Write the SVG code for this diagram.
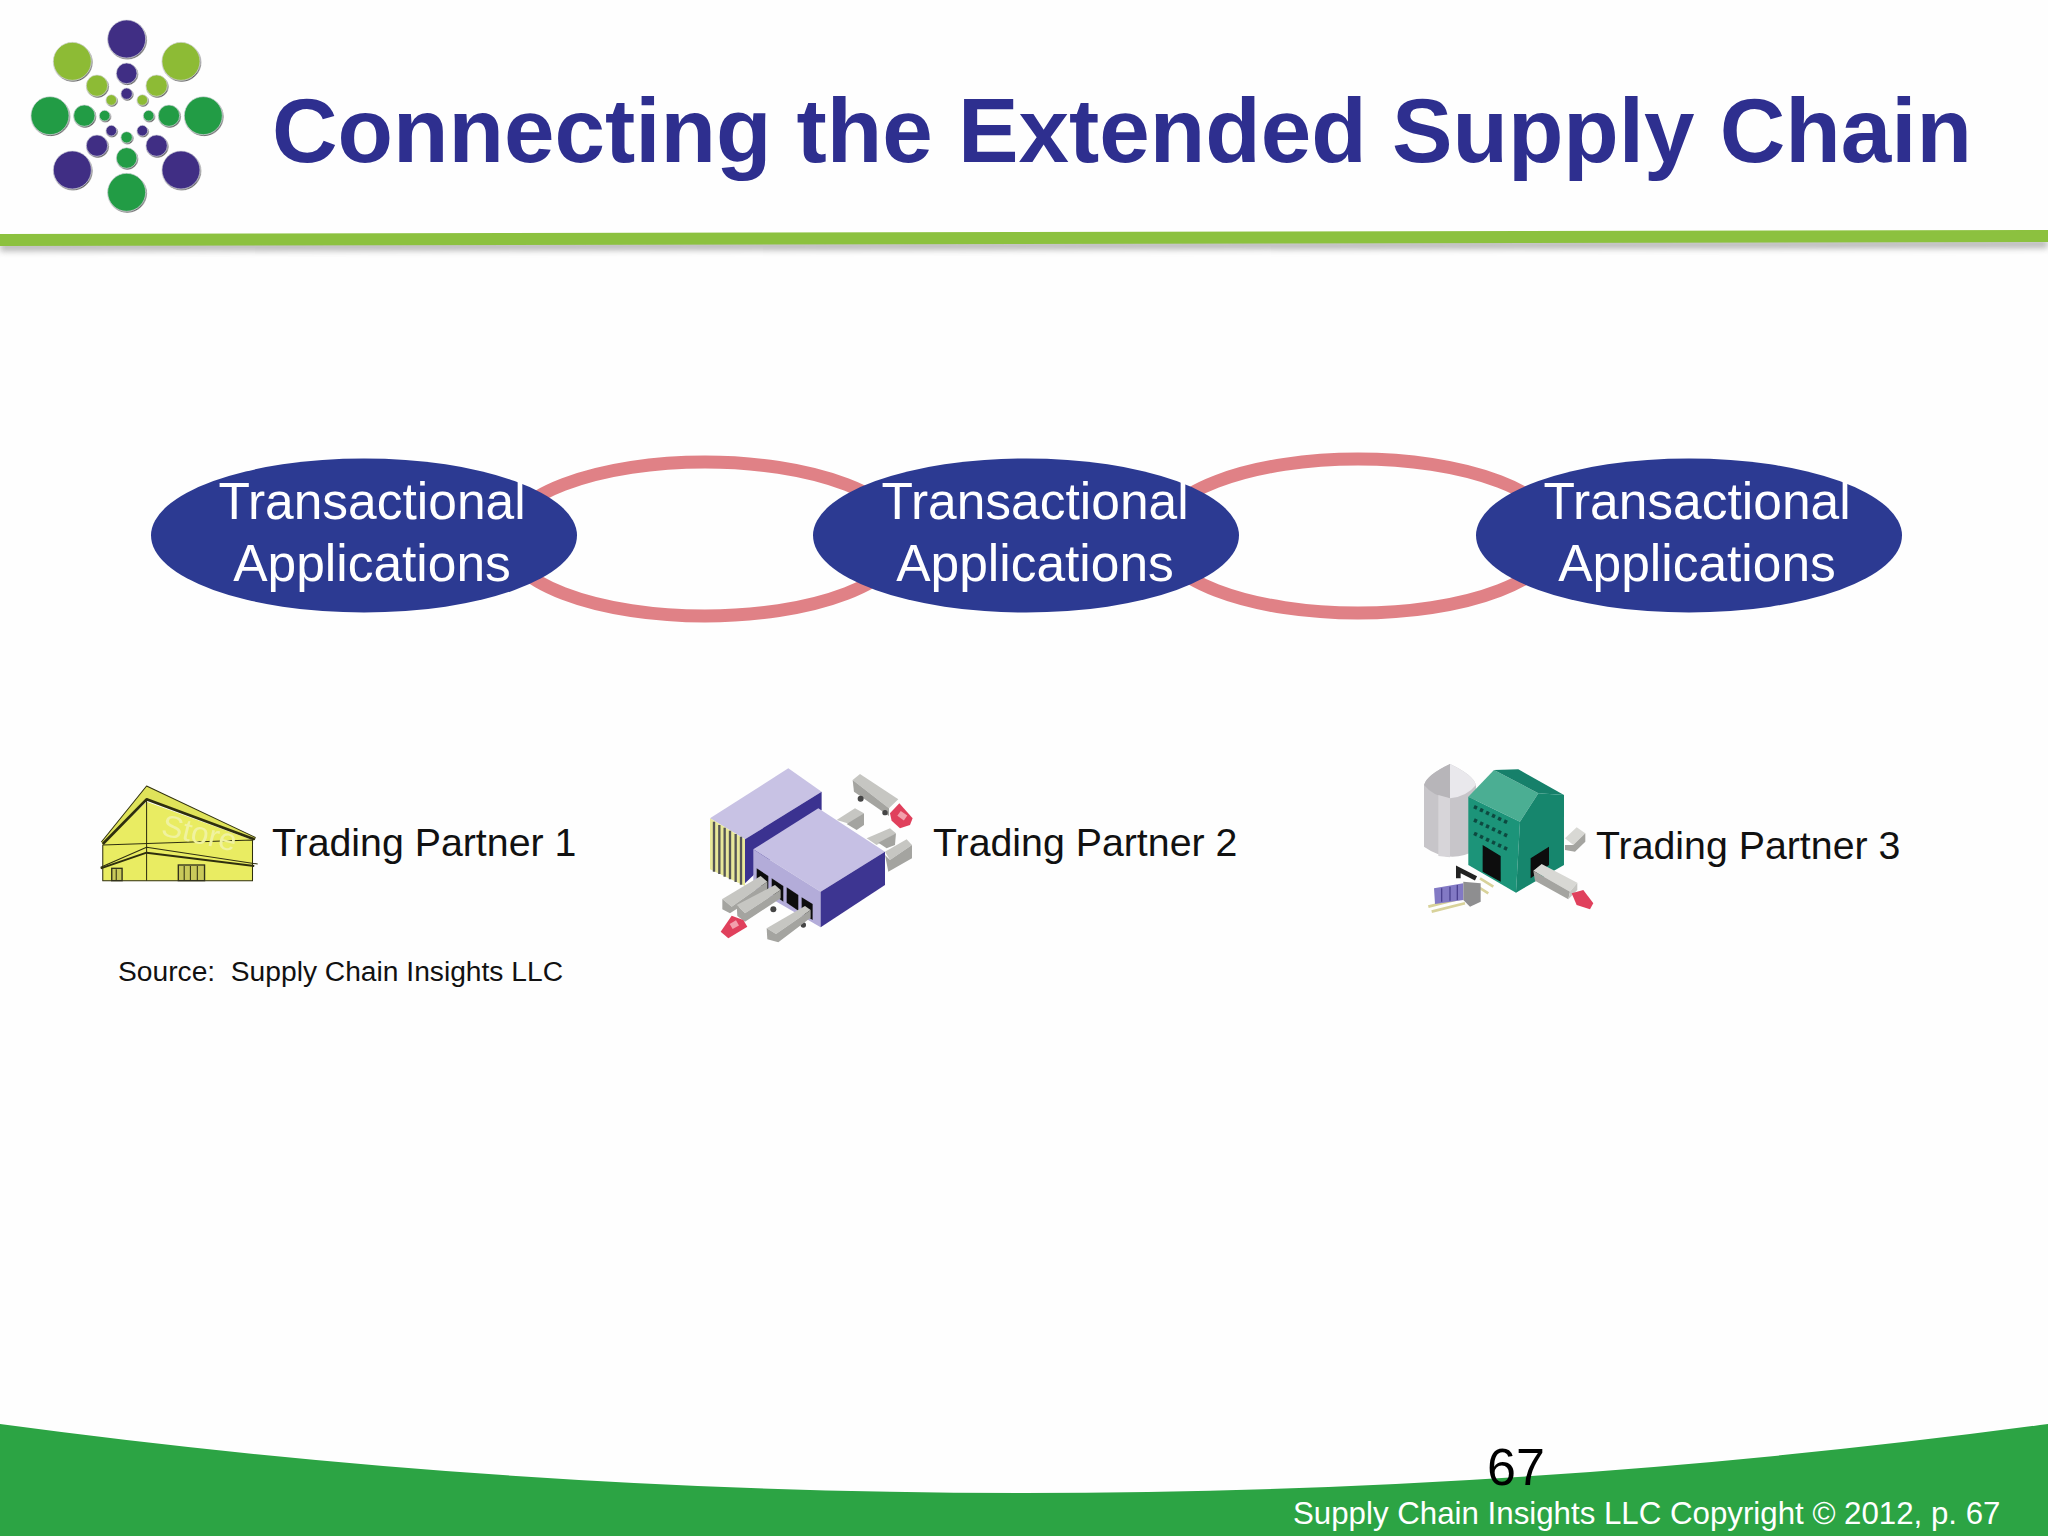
<svg xmlns="http://www.w3.org/2000/svg" width="2048" height="1536" viewBox="0 0 2048 1536">
<style>
text{font-family:"Liberation Sans",Arial,sans-serif;white-space:pre}
.p{fill:#3f2f84}.l{fill:#8dbb35}.g{fill:#229c45}
.ring{fill:none;stroke:#e08186;stroke-width:13}
.oval{fill:#2c3a92}
.ot{fill:#fff;font-size:51.500px;text-anchor:middle}
.tp{fill:#111;font-size:39.300px}
.ln{fill:none;stroke:#2f2f10;stroke-linejoin:round}
.tk{fill:#c6c6c2}.tk2{fill:#a4a4a0}.cab{fill:#e0405c}.wh{fill:#444}
</style>
<defs>
<filter id="sh" x="-30%" y="-30%" width="170%" height="170%"><feDropShadow dx="2" dy="3" stdDeviation="1.500" flood-color="#333" flood-opacity=".8"/></filter>
<filter id="sb" x="-2%" y="-100%" width="104%" height="400%"><feGaussianBlur stdDeviation="3"/></filter>
<filter id="soft" x="-5%" y="-5%" width="110%" height="110%"><feGaussianBlur stdDeviation="0.9"/></filter>
</defs>
<rect width="2048" height="1536" fill="#fefefe"/>
<g id="logo" transform="scale(.3333)" filter="url(#sh)" stroke="#d8d8e0" stroke-width="2">
<circle class="p" cx="380" cy="117" r="57"/><circle class="p" cx="380" cy="220" r="31"/><circle class="p" cx="380" cy="281" r="17"/>
<circle class="p" cx="217" cy="510" r="57"/><circle class="p" cx="291" cy="437" r="32"/><circle class="p" cx="334" cy="392" r="16"/>
<circle class="p" cx="543" cy="510" r="57"/><circle class="p" cx="470" cy="437" r="32"/><circle class="p" cx="427" cy="392" r="16"/>
<circle class="l" cx="217" cy="184" r="57"/><circle class="l" cx="291" cy="257" r="32"/><circle class="l" cx="334" cy="300" r="16"/>
<circle class="l" cx="543" cy="184" r="57"/><circle class="l" cx="470" cy="257" r="32"/><circle class="l" cx="427" cy="300" r="16"/>
<circle class="g" cx="150" cy="347" r="57"/><circle class="g" cx="253" cy="347" r="32"/><circle class="g" cx="314" cy="347" r="16"/>
<circle class="g" cx="610" cy="347" r="57"/><circle class="g" cx="507" cy="347" r="32"/><circle class="g" cx="446" cy="347" r="16"/>
<circle class="g" cx="380" cy="577" r="57"/><circle class="g" cx="380" cy="474" r="31"/><circle class="g" cx="380" cy="412" r="17"/>
</g>
<text id="title" x="272" y="162" font-size="90.800" font-weight="bold" fill="#2e2f8f">Connecting the Extended Supply Chain</text>
<g id="rule">
<polygon points="0,243 2048,240 2048,248 0,251" fill="#777" opacity=".55" filter="url(#sb)"/>
<polygon points="0,234 2048,230 2048,242 0,246" fill="#8cc13f"/>
</g>
<g id="connectors">
<ellipse class="ring" cx="705" cy="539" rx="200" ry="77"/>
<ellipse class="ring" cx="1358" cy="536" rx="200" ry="77"/>
</g>
<g id="app1"><ellipse class="oval" cx="364" cy="535.500" rx="213" ry="77"/><text class="ot" x="372" y="519">Transactional</text><text class="ot" x="372" y="581">Applications</text></g>
<g id="app2"><ellipse class="oval" cx="1026" cy="535.500" rx="213" ry="77"/><text class="ot" x="1035" y="519">Transactional</text><text class="ot" x="1035" y="581">Applications</text></g>
<g id="app3"><ellipse class="oval" cx="1689" cy="535.500" rx="213" ry="77"/><text class="ot" x="1697" y="519">Transactional</text><text class="ot" x="1697" y="581">Applications</text></g>

<g id="partner1">
<g transform="translate(80,760) scale(.345,.3333)" filter="url(#soft)">
<polygon points="66,252 193,125 500,240 500,362 66,362" fill="#e9ec62"/>
<polygon points="62,246 193,78 508,232 505,240 193,118 66,255" fill="#dfe35a"/>
<polyline class="ln" stroke-width="3" points="62,246 193,78 508,232 505,240"/>
<polyline class="ln" stroke-width="8" points="66,252 193,118 505,238"/>
<polyline class="ln" stroke-width="3" points="60,322 193,262 515,312"/>
<polyline class="ln" stroke-width="6" points="60,325 193,278 505,318"/>
<polygon class="ln" stroke-width="3" points="66,255 66,362 500,362 500,240"/>
<line class="ln" stroke-width="3" x1="193" y1="120" x2="193" y2="362"/>
<rect x="92" y="325" width="30" height="37" fill="#c9c95a" stroke="#33331a" stroke-width="4"/>
<rect x="285" y="315" width="76" height="47" fill="#c9c95a" stroke="#33331a" stroke-width="4"/>
<path class="ln" stroke-width="3" d="M302,318V362M320,318V362M340,318V362M105,328V362"/>
<text x="232" y="225" font-size="92" fill="#f0f2a0" transform="rotate(13 232 225)">Store</text>
</g>
<text class="tp" x="272" y="856">Trading Partner 1</text>
</g>
<text id="source" x="118" y="981" font-size="28.200" fill="#111">Source:  Supply Chain Insights LLC</text>

<g id="partner2">
<g transform="translate(690,750) scale(.3333)" filter="url(#soft)">
<polygon points="60,205 295,55 395,125 165,268" fill="#c8c2e4"/>
<polygon points="165,268 395,125 395,180 165,400" fill="#3b3190"/>
<polygon points="60,205 165,268 165,408 60,358" fill="#e8e89a"/>
<path d="M72,215V365M88,225V372M104,233V380M120,242V388M137,252V396M153,260V404" stroke="#555" stroke-width="7" fill="none"/>
<polygon points="440,210 495,175 522,190 480,222" class="tk"/>
<polygon points="470,222 522,190 522,225 500,240" class="tk2"/>
<polygon points="530,265 600,235 618,250 560,285" class="tk"/>
<polygon points="565,278 618,250 615,285 590,295" class="tk2"/>
<polygon points="585,305 650,268 666,285 600,330" class="tk"/>
<polygon points="585,315 600,330 666,285 666,325 595,365" class="tk2"/>
<polygon points="190,298 385,175 585,305 392,425" fill="#c6c0e4"/>
<polygon points="190,298 392,425 392,532 190,415" fill="#b3acd9"/>
<polygon points="392,425 585,305 585,405 392,532" fill="#3e3491"/>
<polygon points="200,355 235,378 235,425 200,400" fill="#111"/>
<polygon points="245,385 280,408 280,455 245,430" fill="#111"/>
<polygon points="290,412 325,435 325,482 290,458" fill="#111"/>
<polygon points="335,442 368,462 368,510 335,488" fill="#111"/>
<polygon points="97,447 212,378 232,395 125,470" class="tk"/>
<polygon points="97,447 125,470 232,395 232,418 120,490 97,478" class="tk2"/>
<polygon points="140,465 255,405 272,420 165,490" class="tk"/>
<polygon points="140,465 165,490 272,420 272,445 165,515 142,498" class="tk2"/>
<circle class="wh" cx="250" cy="478" r="9"/><circle class="wh" cx="340" cy="525" r="8"/>
<polygon points="230,535 345,468 362,480 258,552" class="tk"/>
<polygon points="230,535 258,552 362,480 362,503 265,577 232,568" class="tk2"/>
<polygon points="92,545 125,497 160,510 172,530 115,565" class="cab"/>
<rect x="122" y="515" width="22" height="18" fill="#f2a0ac" transform="rotate(-30 133 524)"/>
<polygon points="488,90 510,72 625,148 597,175" class="tk"/>
<polygon points="488,90 597,175 597,198 492,125" class="tk2"/>
<circle class="wh" cx="512" cy="146" r="9"/><circle class="wh" cx="585" cy="188" r="8"/>
<polygon points="600,190 628,160 668,205 660,225 630,235 605,212" class="cab"/>
<rect x="625" y="188" width="24" height="18" fill="#f2a0ac" transform="rotate(35 637 197)"/>
</g>
<text class="tp" x="933" y="856">Trading Partner 2</text>
</g>

<g id="partner3">
<g transform="translate(1400,750) scale(.3333)" filter="url(#soft)">
<path d="M72,105Q80,75 150,42Q220,75 228,105V300Q150,345 72,290Z" fill="#c7c5c9"/>
<path d="M72,105Q80,75 150,42V145Q100,140 72,105Z" fill="#b7b5b9"/>
<path d="M228,105Q220,75 150,42V145Q200,140 228,105Z" fill="#e9e8ec"/>
<polygon points="115,135 150,145 150,322 115,318" fill="#d7d5d9"/>
<polygon points="495,265 530,232 556,250 520,285" fill="#d8d8d4"/>
<polygon points="495,285 520,285 556,250 556,275 525,305 495,300" class="tk2"/>
<polygon points="205,140 282,60 415,130 360,215" fill="#4cae93"/>
<polygon points="282,60 355,58 492,135 415,130" fill="#14806a"/>
<polygon points="205,140 360,215 348,428 205,345" fill="#1c9479"/>
<polygon points="360,215 415,130 492,135 492,345 348,428" fill="#14866d"/>
<path d="M222,170l105,50M222,210l105,50M222,250l105,50" stroke="#0e4a40" stroke-width="11" stroke-dasharray="10 10" fill="none"/>
<polygon points="248,285 302,318 302,395 248,365" fill="#0a0a0a"/>
<polygon points="392,325 447,290 447,345 392,385" fill="#0a0a0a"/>
<polygon points="400,362 425,342 532,398 510,425" fill="#d8d8d4"/>
<polygon points="400,362 510,425 505,448 405,392" class="tk2"/>
<polygon points="510,425 532,398 532,420 505,448" class="tk"/>
<polygon points="515,430 550,420 580,460 570,478 530,465" class="cab"/>
<path d="M85,470L185,445M95,485L195,460M240,385L280,410M225,405L265,430" stroke="#d8d29a" stroke-width="8" fill="none"/>
<polygon points="102,415 190,400 190,450 105,462" fill="#8279c4"/>
<path d="M125,415V455M150,410V452M172,405V450" stroke="#4b4290" stroke-width="4"/>
<polygon points="190,395 242,400 242,455 210,470 190,450" fill="#8e8e90"/>
<path d="M175,385V358L228,385" stroke="#222" stroke-width="14" fill="none"/>
</g>
<text class="tp" x="1596" y="859">Trading Partner 3</text>
</g>

<g id="footer">
<path d="M0,1424Q1024,1562 2048,1424V1536H0Z" fill="#2ca444"/>
<text x="1487" y="1485" font-size="52" fill="#000">67</text>
<text x="1293" y="1524" font-size="31.250" fill="#fff">Supply Chain Insights LLC Copyright © 2012, p. 67</text>
</g>
</svg>
